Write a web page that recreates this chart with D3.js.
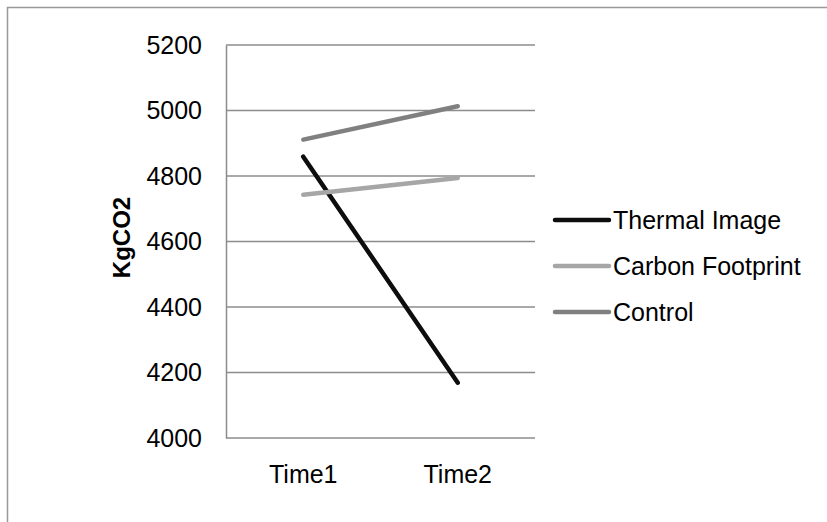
<!DOCTYPE html>
<html>
<head>
<meta charset="utf-8">
<script src="https://cdn.jsdelivr.net/npm/d3@7"></script>
<style>
  body { margin: 0; background: #fff; }
  svg { font-family: "Liberation Sans", Arial, sans-serif; }
</style>
</head>
<body>
<div id="container"></div>
<script>
const width = 827;
const height = 522;

// data
const categories = ["Time1", "Time2"];
const seriesNames = ["Thermal Image", "Carbon Footprint", "Control"];
const thermalImage = [4859, 4169];
const carbonFootprint = [4743, 4794];
const control = [4911, 5013];
const yTicks = [4000, 4200, 4400, 4600, 4800, 5000, 5200];

const colors = ["#0d0d0d", "#a6a6a6", "#808080"];
const series = [thermalImage, carbonFootprint, control];

const margin = { top: 45, left: 226, right: 292, bottom: 84 };
const fontSize = 25;

const svg = d3
  .select("#container")
  .append("svg")
  .attr("width", width)
  .attr("height", height);

// outer frame
svg
  .append("rect")
  .attr("x", 7.5)
  .attr("y", 7.5)
  .attr("width", 840)
  .attr("height", 540)
  .attr("fill", "none")
  .attr("stroke", "#999")
  .attr("stroke-width", 1.5);

const xScale = d3
  .scaleBand()
  .domain(categories)
  .range([margin.left, width - margin.right]);

const yScale = d3
  .scaleLinear()
  .domain([4000, 5200])
  .range([height - margin.bottom, margin.top]);

// gridlines
svg
  .append("g")
  .selectAll("line")
  .data(yTicks)
  .join("line")
  .attr("x1", margin.left)
  .attr("x2", width - margin.right)
  .attr("y1", (d) => yScale(d))
  .attr("y2", (d) => yScale(d))
  .attr("stroke", "#8c8c8c")
  .attr("stroke-width", 1.5);

// y axis
const yAx = svg
  .append("g")
  .attr("transform", `translate(${margin.left},0)`)
  .call(
    d3.axisLeft(yScale).tickValues(yTicks).tickFormat(d3.format("d")).tickSize(0).tickPadding(24)
  );
yAx.select(".domain").attr("stroke", "#8c8c8c").attr("stroke-width", 1.5);
yAx.selectAll("text").attr("font-size", fontSize).attr("fill", "#000")
  .style("font-family", "Liberation Sans, Arial, sans-serif");

// x axis
const xAx = svg
  .append("g")
  .attr("transform", `translate(0,${height - margin.bottom})`)
  .call(d3.axisBottom(xScale).tickSize(0).tickPadding(27));
xAx.select(".domain").remove();
xAx.selectAll("text").attr("font-size", fontSize).attr("fill", "#000")
  .style("font-family", "Liberation Sans, Arial, sans-serif");

// y title
svg
  .append("text")
  .attr("transform", `translate(130,${(yScale(4000) + yScale(5200)) / 2 - 4}) rotate(-90)`)
  .attr("text-anchor", "middle")
  .attr("font-size", 24)
  .attr("font-weight", "bold")
  .text("KgCO2");

// lines
const line = d3
  .line()
  .x((d, i) => xScale(categories[i]) + xScale.bandwidth() / 2)
  .y((d) => yScale(d));

svg
  .append("g")
  .selectAll("path")
  .data(series)
  .join("path")
  .attr("d", line)
  .attr("fill", "none")
  .attr("stroke", (d, i) => colors[i])
  .attr("stroke-width", 4.5)
  .attr("stroke-linecap", "round");

// legend
const legend = svg
  .append("g")
  .selectAll("g")
  .data(seriesNames)
  .join("g")
  .attr("transform", (d, i) => `translate(555,${220 + i * 46})`);

legend
  .append("line")
  .attr("x1", 0)
  .attr("x2", 54)
  .attr("stroke", (d, i) => colors[i])
  .attr("stroke-width", 4.5)
  .attr("stroke-linecap", "round");

legend
  .append("text")
  .attr("x", 58)
  .attr("dy", "0.35em")
  .attr("font-size", fontSize)
  .text((d) => d);
</script>
</body>
</html>
